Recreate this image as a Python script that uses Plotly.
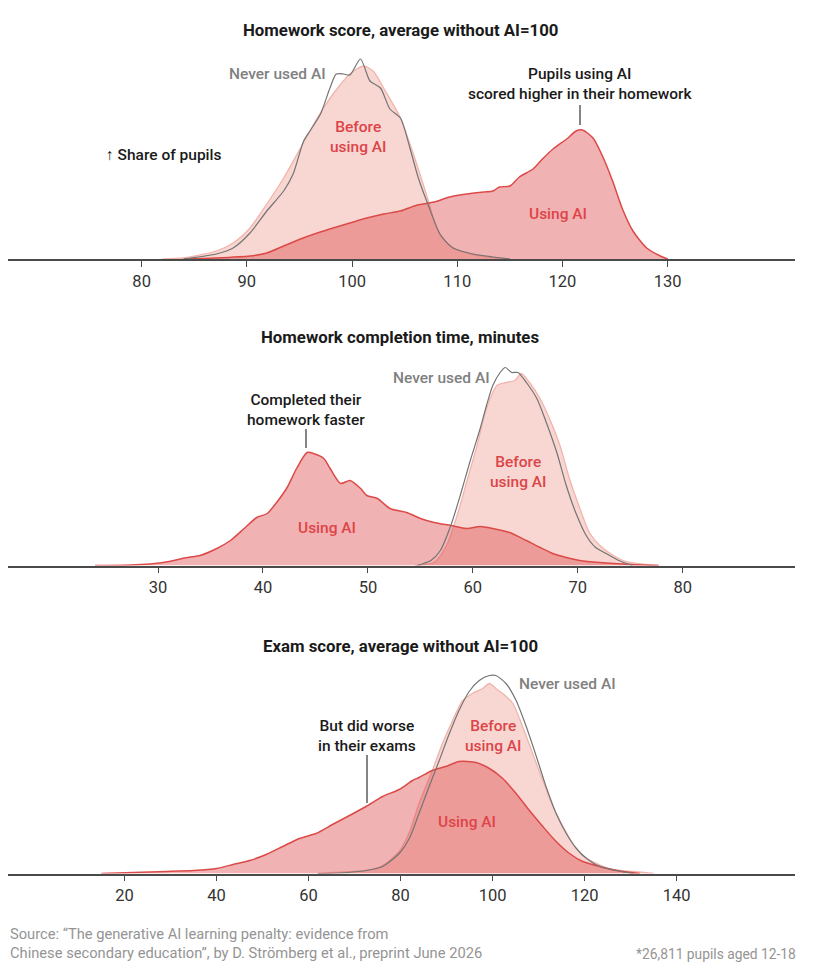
import plotly.graph_objects as go

# ---- data: share of pupils (relative density) ----
# Panel 1: homework score, average without AI = 100
hw_never_x = [84, 87.1, 88.7, 90.3, 91.9, 93.5, 94.4, 95.4, 96.0, 97.0, 97.9, 98.5, 99.2, 99.8,
              100.8, 101.7, 102.7, 103.6, 104.6, 105.5, 106.3, 107.2, 108.4, 109.6, 111.5, 113.4, 115]
hw_never_y = [0, 5, 11, 26, 48, 68, 85, 118, 128, 145, 171, 185, 185, 184,
              200, 178, 171, 150, 141, 111, 81, 55, 24, 11, 5, 2, 0]
hw_before_x = [82, 84, 87.1, 88.7, 90.3, 91.9, 93.5, 95.1, 96.7, 98.2, 99.8, 101.1, 102.0, 103.0,
               104.6, 105.6, 106.3, 107.2, 108.1, 109.3, 110.9, 112.8, 115]
hw_before_y = [0, 1, 8, 16, 31, 55, 81, 111, 141, 165, 185, 193, 188, 171,
               141, 112, 90, 60, 30, 13, 6, 2, 0]
hw_using_x = [84, 87, 90.3, 91.9, 93.5, 95.1, 96.7, 98.2, 99.8, 101.4, 103, 104.6, 106.2, 107.8,
              109.3, 110.9, 112.5, 113.4, 114.0, 115.0, 115.9, 117.2, 118.1, 119.1, 120.4, 121.3,
              121.9, 122.9, 123.8, 124.8, 125.7, 126.7, 128.0, 129.3, 130]
hw_using_y = [0, 1, 3, 6, 13, 20, 26, 31, 36, 41, 45, 48, 54, 57,
              62, 65, 67, 68, 72, 73, 82, 90, 100, 110, 120, 128,
              129, 121, 103, 77, 50, 28, 11, 3, 0]

# Panel 2: homework completion time, minutes
time_never_x = [54.7, 56, 56.9, 57.9, 58.8, 59.7, 60.7, 61.3, 61.9, 62.6, 63.1, 63.7, 64.3, 65.1,
                66.1, 67.0, 68.0, 68.9, 69.8, 70.8, 71.7, 72.7, 73.9, 75.2]
time_never_y = [0, 5, 15, 40, 70, 103, 137, 160, 180, 193, 198, 193, 193, 183,
                167, 143, 113, 80, 53, 30, 18, 12, 5, 0]
time_before_x = [54.5, 56.3, 57.5, 58.5, 59.4, 60.4, 61.3, 62.3, 63.2, 64.0, 64.6, 65.4, 66.4, 67.3,
                 68.3, 69.2, 70.2, 71.1, 72.1, 73.4, 74.6, 76.5, 77.7]
time_before_y = [0, 3, 20, 50, 83, 120, 157, 180, 183, 185, 192, 183, 167, 147,
                 120, 87, 57, 33, 20, 10, 4, 1, 0]
time_using_x = [24, 27.4, 30.5, 32.8, 34.0, 35.6, 36.9, 38.2, 39.4, 40.4, 41.3, 42.3, 43.2, 44.2,
                44.8, 45.8, 46.4, 47.4, 48.3, 49.3, 49.9, 50.9, 52.1, 53.7, 55.0, 56.3, 57.9,
                59.4, 60.7, 61.9, 63.5, 65.1, 66.4, 67.6, 68.9, 70.2, 72.1, 75.2, 77.7]
time_using_y = [0, 0.5, 3, 8, 10, 17, 25, 37, 48, 52, 63, 78, 97, 113,
                112, 107, 97, 82, 85, 77, 70, 67, 57, 53, 47, 43, 40,
                37, 39, 37, 33, 25, 18, 12, 8, 5, 3, 1, 0]

# Panel 3: exam score, average without AI = 100
exam_never_x = [62, 66.7, 72.5, 76.1, 79.7, 82, 84, 86.2, 88.4, 90.6, 92.7, 94.9, 97.1, 99.3,
                100.7, 102.9, 105.1, 107.3, 109.5, 111.6, 113.8, 116, 118.2, 120.4, 123.3, 126.9, 130.6]
exam_never_y = [0, 0.5, 3, 7, 20, 36, 60, 87, 113, 140, 163, 182, 193, 198,
                198, 190, 173, 147, 117, 87, 60, 40, 25, 15, 7, 3, 0]
exam_before_x = [62, 65.2, 72.5, 76.1, 79.7, 82, 84, 86.9, 89.1, 91.3, 93.5, 95.6, 97.8, 99.3,
                 100.7, 102.2, 104.4, 106.5, 108.7, 110.9, 113.1, 115.3, 117.4, 119.6, 122.6,
                 126.2, 130.6, 135]
exam_before_y = [0, 1, 3, 8, 22, 42, 70, 103, 130, 153, 173, 180, 185, 190,
                 185, 180, 170, 147, 120, 93, 67, 47, 30, 18, 10,
                 4, 2, 0]
exam_using_x = [15, 21.9, 29.2, 35, 40, 43.6, 47.2, 50.8, 54.4, 58, 61.6, 65.2, 68.9, 72.5,
                76.1, 79.7, 82.6, 84.0, 86.9, 89.8, 92.7, 96.4, 99.3, 102.2, 105.1, 108, 110.9,
                113.8, 116.7, 119.6, 123.3, 126.9, 132]
exam_using_y = [0, 1, 2, 3, 5, 9, 13, 19, 27, 35, 40, 49, 58, 67,
                77, 84, 93, 96, 103, 107, 112, 111, 105, 95, 80, 63, 47,
                32, 20, 12, 7, 3, 0]

panel_titles = ["Homework score, average without AI=100",
                "Homework completion time, minutes",
                "Exam score, average without AI=100"]
panel_ticks = [[80, 90, 100, 110, 120, 130],
               [30, 40, 50, 60, 70, 80],
               [20, 40, 60, 80, 100, 120, 140]]
panel_ranges = [[67.3, 142.1], [15.7, 90.7], [-5.3, 165.7]]

panels = [
    (hw_never_x, hw_never_y, hw_before_x, hw_before_y, hw_using_x, hw_using_y),
    (time_never_x, time_never_y, time_before_x, time_before_y, time_using_x, time_using_y),
    (exam_never_x, exam_never_y, exam_before_x, exam_before_y, exam_using_x, exam_using_y),
]

# ---- styling ----
# the page body adds an 8px margin, so the figure is a bit smaller than the window
OFF = 8
W, H = 810, 962
FONT = "Roboto, sans-serif"
BEFORE_FILL = "rgba(235,140,130,0.35)"
BEFORE_LINE = "#f1b4ab"
USING_FILL = "rgba(222,72,74,0.42)"
USING_LINE = "#dc4a48"
NEVER_LINE = "#747474"
RED_TEXT = "#dd4448"
GREY_TEXT = "#808080"
DARK = "#1a1a1a"

# helpers: window pixel -> paper fraction
def px(x):
    return (x - OFF) / W

def py(y):
    return 1 - (y - OFF) / H

# baseline pixel of each panel, and panel height in pixels (= y range)
baselines = [259, 565.5, 873.5]
panel_h = 210

fig = go.Figure()

for i, (nx, ny, bx, by, ux, uy) in enumerate(panels):
    ax = "" if i == 0 else str(i + 1)
    fig.add_trace(go.Scatter(x=bx, y=by, mode="lines", fill="tozeroy",
                             fillcolor=BEFORE_FILL, line=dict(color=BEFORE_LINE, width=1.3, shape="spline", smoothing=0.7),
                             xaxis="x" + ax, yaxis="y" + ax, hoverinfo="skip"))
    fig.add_trace(go.Scatter(x=ux, y=uy, mode="lines", fill="tozeroy",
                             fillcolor=USING_FILL, line=dict(color=USING_LINE, width=1.5, shape="spline", smoothing=0.7),
                             xaxis="x" + ax, yaxis="y" + ax, hoverinfo="skip"))
    fig.add_trace(go.Scatter(x=nx, y=ny, mode="lines",
                             line=dict(color=NEVER_LINE, width=1.2, shape="spline", smoothing=0.7),
                             xaxis="x" + ax, yaxis="y" + ax, hoverinfo="skip"))

layout = dict(
    width=W, height=H,
    margin=dict(l=0, r=0, t=0, b=0),
    paper_bgcolor="white", plot_bgcolor="white",
    showlegend=False,
    font=dict(family=FONT, color=DARK),
)

for i in range(3):
    ax = "" if i == 0 else str(i + 1)
    base = baselines[i]
    layout["xaxis" + ax] = dict(
        domain=[px(8), px(795)], range=panel_ranges[i],
        tickvals=panel_ticks[i], showgrid=False, zeroline=False,
        showline=True, linecolor="#4a4a4a", linewidth=1.5,
        ticks="outside", ticklen=6, tickwidth=1.2, tickcolor="#4a4a4a",
        tickfont=dict(size=16.5, color="#333333", family=FONT),
        anchor="y" + ax, fixedrange=True,
    )
    layout["yaxis" + ax] = dict(
        domain=[py(base), py(base - panel_h)], range=[0, panel_h],
        visible=False, fixedrange=True, anchor="x" + ax,
    )

fig.update_layout(**layout)

title_y = [30, 337, 646]
ann = []
for i in range(3):
    ann.append(dict(text=panel_titles[i], x=px(400), y=py(title_y[i]),
                    font=dict(size=16.8, color=DARK, weight=700)))

def label(text, x, y, color, xanchor="center", size=15.5):
    ann.append(dict(text=text, x=px(x), y=py(y), font=dict(size=size, color=color, weight=500),
                    xanchor=xanchor))

# panel 1
label("Never used AI", 328, 74, GREY_TEXT, xanchor="right")
label("Before<br>using AI", 358, 137, RED_TEXT)
label("Using AI", 558, 214, RED_TEXT)
label("↑ Share of pupils", 104, 155, DARK, xanchor="left")
label("Pupils using AI<br>scored higher in their homework", 580, 83.5, DARK)
# panel 2
label("Never used AI", 492, 378, GREY_TEXT, xanchor="right")
label("Before<br>using AI", 518, 472, RED_TEXT)
label("Using AI", 327, 528, RED_TEXT)
label("Completed their<br>homework faster", 306, 409.5, DARK)
# panel 3
label("Never used AI", 517, 684, GREY_TEXT, xanchor="left")
label("Before<br>using AI", 493, 735.5, RED_TEXT)
label("Using AI", 467, 822, RED_TEXT)
label("But did worse<br>in their exams", 367, 735.5, DARK)

# footer
ann.append(dict(text="Source: “The generative AI learning penalty: evidence from<br>"
                     "Chinese secondary education”, by D. Strömberg et al., preprint June 2026",
                x=px(8), y=py(943), xanchor="left", align="left",
                font=dict(size=14.7, color="#949494")))
ann.append(dict(text="*26,811 pupils aged 12-18", x=px(798), y=py(954), xanchor="right",
                font=dict(size=13.8, color="#949494")))

for a in ann:
    a.setdefault("xref", "paper")
    a.setdefault("yref", "paper")
    a.setdefault("showarrow", False)
    a.setdefault("yanchor", "middle")

# leader lines
leaders = [(580, 105, 125), (306, 429, 448), (367, 755, 803)]
shapes = [dict(type="line", xref="paper", yref="paper", x0=px(x), x1=px(x), y0=py(a), y1=py(b),
               line=dict(color="#333333", width=1.2)) for x, a, b in leaders]

fig.update_layout(annotations=ann, shapes=shapes)

fig.write_html("out.html")
